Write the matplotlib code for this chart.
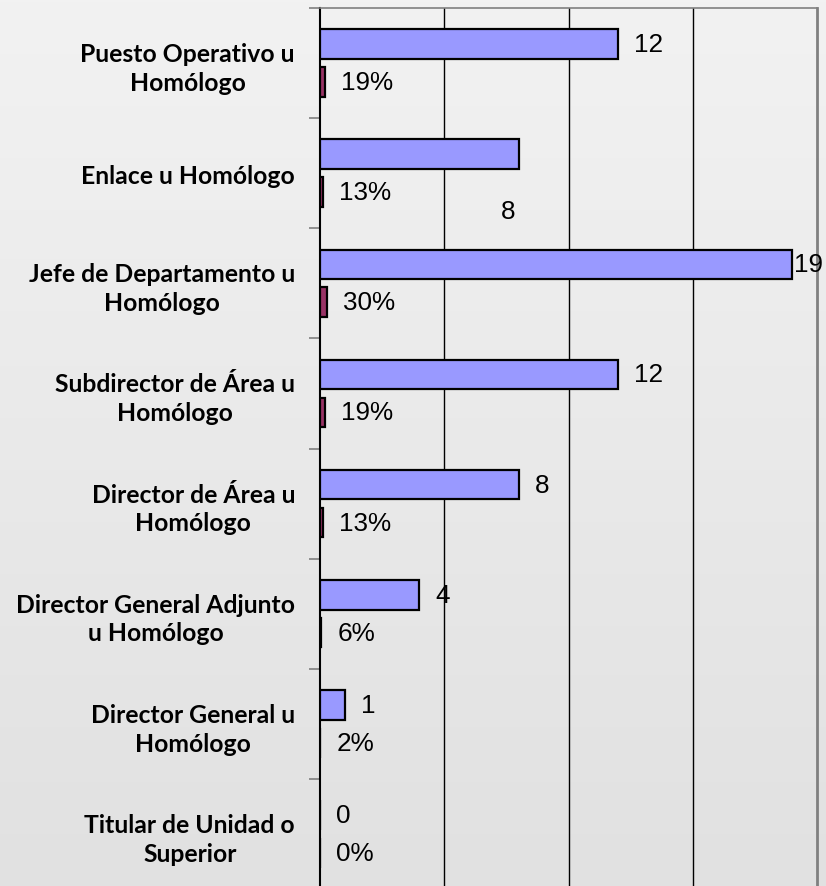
import matplotlib
matplotlib.use("Agg")
import matplotlib.pyplot as plt
import numpy as np
from matplotlib.ticker import FixedLocator
from matplotlib.colors import LinearSegmentedColormap

categories = [
    "Puesto Operativo u\nHomólogo",
    "Enlace u Homólogo",
    "Jefe de Departamento u\nHomólogo",
    "Subdirector de Área u\nHomólogo",
    "Director de Área u\nHomólogo",
    "Director General Adjunto\nu Homólogo",
    "Director General u\nHomólogo",
    "Titular de Unidad o\nSuperior",
]
counts = [12, 8, 19, 12, 8, 4, 1, 0]
shares = [0.19, 0.13, 0.30, 0.19, 0.13, 0.06, 0.02, 0.00]

W, H = 826, 887
fig = plt.figure(figsize=(W / 100, H / 100), dpi=100)

# background gradient
bg = fig.add_axes([0, 0, 1, 1], zorder=-10)
grad = np.linspace(0, 1, 256).reshape(-1, 1)
cmap = LinearSegmentedColormap.from_list("g", ["#f2f2f2", "#e1e1e1"])
bg.imshow(grad, aspect="auto", cmap=cmap, extent=[0, 1, 0, 1], origin="upper")
bg.axis("off")

left = 320 / W
right = 817 / W
top = 1 - 9 / H
bottom = -3 / H
ax = fig.add_axes([left, bottom, right - left, top - bottom])
ax.patch.set_alpha(0)

y = np.arange(len(categories))
bh = 0.27
off = 0.172
ax.barh(y - off, counts, height=bh, color="#9999ff", edgecolor="black", linewidth=1.6, zorder=3)
ax.barh(y + off, shares, height=bh, color="#993366", edgecolor="black", linewidth=1.6, zorder=3)

ax.set_xlim(0, 20)
ax.set_ylim(len(categories) - 0.5, -0.5)

numfont = dict(family="Liberation Sans", fontsize=18.8, color="black")
for i, (c, s) in enumerate(zip(counts, shares)):
    if i == 1:
        ax.annotate(str(c), xy=(c, i - off), xytext=(-11, -57), textcoords="offset pixels",
                    ha="center", va="center", **numfont)
    elif c == max(counts):
        ax.annotate(str(c), xy=(c, i - off), xytext=(2, 0), textcoords="offset pixels",
                    ha="left", va="center", annotation_clip=False, **numfont)
    else:
        ax.annotate(str(c), xy=(c, i - off), xytext=(16, 0), textcoords="offset pixels",
                    ha="left", va="center", **numfont)
    ax.annotate(f"{s:.0%}", xy=(s, i + off), xytext=(16, 0), textcoords="offset pixels",
                ha="left", va="center", **numfont)

# grid
for gx in [5, 10, 15]:
    ax.axvline(gx, color="black", linewidth=1.0, zorder=1)

ax.set_xticks([])
ax.yaxis.set_major_locator(FixedLocator(y))
ax.set_yticklabels(categories, fontfamily="Lato", fontweight="bold", fontsize=17.8,
                   multialignment="center", linespacing=1.3)
ax.tick_params(axis="y", which="major", length=0, pad=18)
ax.yaxis.set_minor_locator(FixedLocator(np.arange(-0.5, len(categories), 1.0)))
ax.tick_params(axis="y", which="minor", length=8, width=1.2, color="#808080", direction="out")

ax.spines["left"].set_color("black")
ax.spines["left"].set_linewidth(1.5)
ax.spines["top"].set_color("#808080")
ax.spines["top"].set_linewidth(1.2)
ax.spines["right"].set_color("#808080")
ax.spines["right"].set_linewidth(2)
ax.spines["bottom"].set_visible(False)

fig.savefig("out.png", dpi=100)
